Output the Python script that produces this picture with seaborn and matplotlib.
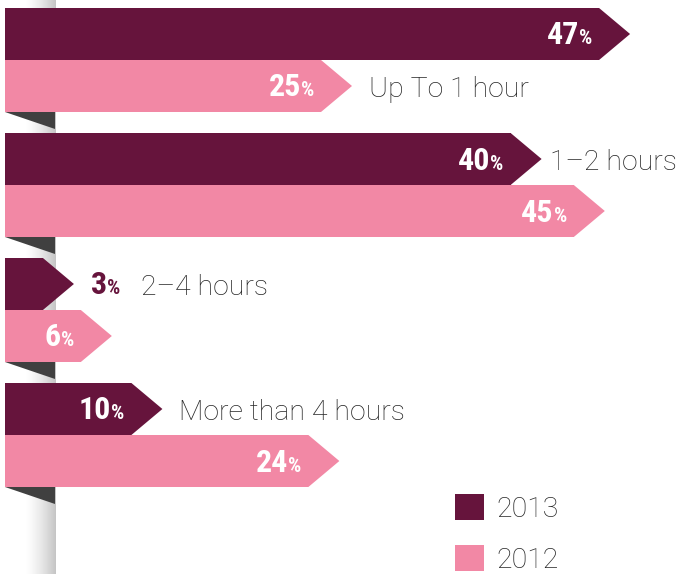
import numpy as np
import pandas as pd
import matplotlib
matplotlib.use("Agg")
import matplotlib.pyplot as plt
from matplotlib.patches import Polygon, Patch
import seaborn as sns

# Time spent, share of respondents per year
categories = ["Up To 1 hour", "1–2 hours", "2–4 hours", "More than 4 hours"]
years = ["2013", "2012"]
share_2013 = [47, 40, 3, 10]
share_2012 = [25, 45, 6, 24]

colors = {"2013": "#66143c", "2012": "#f288a5"}
fold_color = "#404040"
text_color = "#262626"

df = pd.DataFrame({
    "category": categories * 2,
    "year": ["2013"] * len(categories) + ["2012"] * len(categories),
    "share": share_2013 + share_2012,
})

sns.set_theme(style="white")
plt.rcParams["font.family"] = ["Roboto", "DejaVu Sans"]

W, H, DPI = 679, 574, 100
fig = plt.figure(figsize=(W / DPI, H / DPI), dpi=DPI)
ax = fig.add_axes([0, 0, 1, 1])

sns.barplot(data=df, y="category", x="share", hue="year", hue_order=years,
            order=categories, palette=colors, orient="h", width=0.832,
            saturation=1, legend=False, ax=ax, zorder=3, linewidth=0)

# pixel-to-data layout: 12.64 px per percentage point, 125 px per group
px_per_unit = 12.64
x0_px = 5
ax.set_xlim(-x0_px / px_per_unit, (W - x0_px) / px_per_unit)
ax.set_ylim((H - 60) / 125, -60 / 125)
ax.axis("off")

def px_x(p):
    return p / px_per_unit

def px_y(p):
    return p / 125

# shaded post behind the ribbons
grad = np.linspace(0, 1, 64) ** 1.4
img = 1 - 0.23 * grad
ax.imshow(img[None, :], cmap="gray", vmin=0, vmax=1, aspect="auto",
          extent=(px_x(20), px_x(50), (H - 60) / 125, -60 / 125), zorder=1,
          interpolation="bilinear")

# arrow heads on every ribbon
tip_len = px_x(31)
overlap = px_x(1.5)
bars = {}
for year, cont in zip(years, ax.containers):
    for cat, patch in zip(categories, cont.patches):
        x, y = patch.get_x(), patch.get_y()
        w, h = patch.get_width(), patch.get_height()
        tri = Polygon([(x + w - overlap, y), (x + w, y), (x + w + tip_len, y + h / 2),
                       (x + w, y + h), (x + w - overlap, y + h)],
                      closed=True, facecolor=patch.get_facecolor(),
                      edgecolor="none", zorder=3)
        ax.add_patch(tri)
        bars[(cat, year)] = (x, y, w, h)

# folded ribbon underside below each group
for cat in categories:
    x, y, w, h = bars[(cat, "2012")]
    bottom = y + h
    fold = Polygon([(0, bottom), (px_x(50), bottom), (px_x(50), bottom + px_y(17))],
                   closed=True, facecolor=fold_color, edgecolor="none", zorder=2)
    ax.add_patch(fold)

fig.canvas.draw()
renderer = fig.canvas.get_renderer()

num_font = dict(family=["Liberation Sans Narrow", "Roboto Condensed", "Roboto"],
                weight="bold", stretch="condensed")
num_size, pct_size = 23, 15
label_size = 20.5

label_end = {}
for (cat, year), (x, y, w, h) in bars.items():
    value = w
    yc = y + h / 2
    if value >= 5:
        pct = ax.annotate("%", (x + w, yc), xytext=(-7, -10.5),
                          textcoords="offset pixels", ha="right", va="baseline",
                          color="white", fontsize=pct_size, zorder=5, **num_font)
        bb = pct.get_window_extent(renderer)
        ax.annotate(f"{value:.0f}", (x + w, yc),
                    xytext=(-7 - bb.width, -10.5), textcoords="offset pixels",
                    ha="right", va="baseline", color="white", fontsize=num_size,
                    zorder=5, **num_font)
        label_end[(cat, year)] = (x + w + tip_len, 17)
    else:
        num = ax.annotate(f"{value:.0f}", (x + w + tip_len, yc), xytext=(17, -10.5),
                          textcoords="offset pixels", ha="left", va="baseline",
                          color=colors[year], fontsize=num_size, zorder=5, **num_font)
        bb = num.get_window_extent(renderer)
        pct = ax.annotate("%", (x + w + tip_len, yc), xytext=(17 + bb.width, -10.5),
                          textcoords="offset pixels", ha="left", va="baseline",
                          color=colors[year], fontsize=pct_size, zorder=5, **num_font)
        bb2 = pct.get_window_extent(renderer)
        label_end[(cat, year)] = (x + w + tip_len, 17 + bb.width + bb2.width + 21)

# category name beside the shorter ribbon of each group, kept inside the figure
for cat in categories:
    short = min(years, key=lambda yr: bars[(cat, yr)][2])
    x, y, w, h = bars[(cat, short)]
    anchor_x, gap = label_end[(cat, short)]
    lbl = ax.annotate(cat, (anchor_x, y + h / 2), xytext=(gap, -11),
                      textcoords="offset pixels", ha="left", va="baseline",
                      color=text_color, fontsize=label_size, fontweight="light", zorder=5)
    bb = lbl.get_window_extent(renderer)
    spill = bb.x1 - (W - 2)
    if spill > 0:
        lbl.set_position((gap - spill, -11))

handles = [Patch(facecolor=colors[yr], edgecolor="none") for yr in years]
leg = ax.legend(handles, years, loc="upper left", bbox_to_anchor=(455 / W, 1 - 494 / H),
                frameon=False, fontsize=20.5, handlelength=1.02, handleheight=1.02,
                handletextpad=0.45, labelspacing=0.78, borderpad=0, borderaxespad=0)
for t in leg.get_texts():
    t.set_color(text_color)
    t.set_fontweight("light")

fig.savefig("out.png", dpi=DPI)
